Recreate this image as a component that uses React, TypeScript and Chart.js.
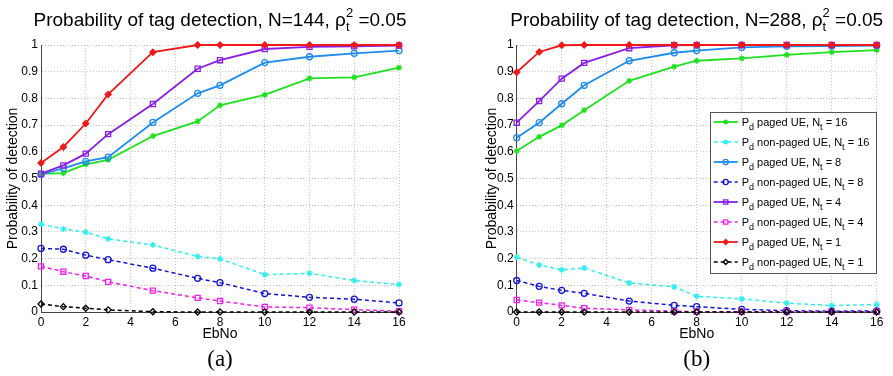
import React, { useEffect, useRef } from "react";
import { Chart, registerables } from "chart.js";
import { drawPoint } from "chart.js/helpers";

Chart.register(...registerables);

// ---------------- data ----------------
const ebno = [0, 1, 2, 3, 5, 7, 8, 10, 12, 14, 16];

const seriesLabels = [
  "P_d paged UE, N_t = 16",
  "P_d non-paged UE, N_t = 16",
  "P_d paged UE, N_t = 8",
  "P_d non-paged UE, N_t = 8",
  "P_d paged UE, N_t = 4",
  "P_d non-paged UE, N_t = 4",
  "P_d paged UE, N_t = 1",
  "P_d non-paged UE, N_t = 1",
];

// (a) N = 144
const a_paged16 = [0.517, 0.520, 0.553, 0.570, 0.659, 0.714, 0.774, 0.813, 0.875, 0.879, 0.915];
const a_nonpaged16 = [0.329, 0.311, 0.299, 0.274, 0.251, 0.208, 0.199, 0.140, 0.145, 0.118, 0.103];
const a_paged8 = [0.515, 0.538, 0.564, 0.580, 0.710, 0.819, 0.849, 0.934, 0.956, 0.969, 0.979];
const a_nonpaged8 = [0.238, 0.235, 0.213, 0.196, 0.164, 0.126, 0.110, 0.069, 0.055, 0.048, 0.034];
const a_paged4 = [0.518, 0.549, 0.593, 0.666, 0.779, 0.911, 0.943, 0.985, 0.993, 0.995, 0.998];
const a_nonpaged4 = [0.171, 0.151, 0.135, 0.113, 0.080, 0.053, 0.041, 0.019, 0.016, 0.009, 0.003];
const a_paged1 = [0.558, 0.618, 0.706, 0.815, 0.973, 1.0, 1.0, 1.0, 1.0, 1.0, 1.0];
const a_nonpaged1 = [0.030, 0.020, 0.014, 0.008, 0.001, 0, 0, 0, 0, 0, 0];

// (b) N = 288
const b_paged16 = [0.603, 0.656, 0.699, 0.756, 0.866, 0.919, 0.941, 0.950, 0.963, 0.973, 0.981];
const b_nonpaged16 = [0.205, 0.176, 0.158, 0.165, 0.109, 0.094, 0.059, 0.049, 0.033, 0.024, 0.028];
const b_paged8 = [0.653, 0.709, 0.780, 0.849, 0.941, 0.971, 0.979, 0.991, 0.995, 0.996, 0.998];
const b_nonpaged8 = [0.118, 0.096, 0.081, 0.070, 0.041, 0.025, 0.020, 0.010, 0.005, 0.003, 0.004];
const b_paged4 = [0.709, 0.790, 0.874, 0.933, 0.988, 0.999, 1.0, 1.0, 1.0, 1.0, 1.0];
const b_nonpaged4 = [0.045, 0.035, 0.025, 0.014, 0.008, 0.003, 0.001, 0.001, 0.001, 0.001, 0.001];
const b_paged1 = [0.898, 0.974, 0.999, 1.0, 1.0, 1.0, 1.0, 1.0, 1.0, 1.0, 1.0];
const b_nonpaged1 = [0, 0, 0, 0, 0, 0, 0, 0, 0, 0, 0];

const titlePrefixes = ["Probability of tag detection, N=144, ", "Probability of tag detection, N=288, "];
const titleSymbol = "\u03C1";
const titleSub = "t";
const titleSup = "2";
const titleSuffix = " =0.05";
const captions = ["(a)", "(b)"];
const xAxisTitle = "EbNo";
const yAxisTitle = "Probability of detection";

// ---------------- styles ----------------
const FONT = "'Liberation Sans', Arial, Helvetica, sans-serif";
const seriesStyles = [
  { color: "#1fe01f", dashed: false, point: "star", fill: false },
  { color: "#33eeee", dashed: true, point: "star", fill: false },
  { color: "#1e8cf0", dashed: false, point: "circle", fill: false },
  { color: "#1414d8", dashed: true, point: "circle", fill: false },
  { color: "#8a1ee6", dashed: false, point: "rect", fill: false },
  { color: "#f020f0", dashed: true, point: "rect", fill: false },
  { color: "#f01818", dashed: false, point: "rectRot", fill: true },
  { color: "#000000", dashed: true, point: "rectRot", fill: false },
];

function pointRadius(style: string) {
  if (style === "rect") return 3.6;
  return 3;
}

function buildDatasets(series: number[][]) {
  return series.map((vals, i) => {
    const s = seriesStyles[i];
    return {
      label: seriesLabels[i],
      data: vals.map((v, k) => ({ x: ebno[k], y: v })),
      borderColor: s.color,
      backgroundColor: s.fill ? s.color : "rgba(255,255,255,0)",
      borderWidth: s.dashed ? 1.5 : 1.8,
      borderDash: s.dashed ? [4, 3] : [],
      pointStyle: s.point,
      pointRadius: pointRadius(s.point),
      pointBorderWidth: 1.3,
      pointBackgroundColor: s.fill ? s.color : "rgba(255,255,255,0)",
      pointBorderColor: s.color,
      tension: 0,
      clip: false as any,
      order: 10 - i,
    };
  });
}

// draw text with "_x" subscripts
function drawRich(ctx: CanvasRenderingContext2D, text: string, x: number, y: number, size: number) {
  const parts = text.split(/_(\w)/);
  let cx = x;
  parts.forEach((p, idx) => {
    const isSub = idx % 2 === 1;
    ctx.font = `${isSub ? Math.round(size * 0.78) : size}px ${FONT}`;
    ctx.fillText(p, cx, isSub ? y + 4 : y);
    cx += ctx.measureText(p).width;
  });
}

function makeDecor(panel: number, withLegend: boolean) {
  return {
    id: "decor" + panel,
    afterDraw(chart: any) {
      const ctx: CanvasRenderingContext2D = chart.ctx;
      const ca = chart.chartArea;
      const cx = (ca.left + ca.right) / 2;
      ctx.save();
      ctx.fillStyle = "#000";
      ctx.textBaseline = "alphabetic";
      ctx.textAlign = "left";
      // title
      const big = `19px ${FONT}`;
      const small = `13px ${FONT}`;
      ctx.font = big;
      const w1 = ctx.measureText(titlePrefixes[panel] + titleSymbol).width;
      const w3 = ctx.measureText(titleSuffix).width;
      ctx.font = small;
      const w2 = Math.max(ctx.measureText(titleSub).width, ctx.measureText(titleSup).width);
      const total = w1 + w2 + w3;
      let x = cx - total / 2;
      const by = 26;
      ctx.font = big;
      ctx.fillText(titlePrefixes[panel] + titleSymbol, x, by);
      x += w1;
      ctx.font = small;
      ctx.fillText(titleSub, x, by + 5);
      ctx.fillText(titleSup, x, by - 9);
      x += w2;
      ctx.font = big;
      ctx.fillText(titleSuffix, x, by);
      // caption
      ctx.font = `23px 'Liberation Serif', 'DejaVu Serif', serif`;
      ctx.textAlign = "center";
      ctx.fillText(captions[panel], cx, 366);
      ctx.textAlign = "left";

      if (withLegend) {
        const w = 167;
        const h = 161;
        const right = ca.right;
        const left = right - w;
        const top = 112;
        ctx.fillStyle = "#fff";
        ctx.fillRect(left, top, w, h);
        ctx.strokeStyle = "#555";
        ctx.lineWidth = 1;
        ctx.strokeRect(Math.round(left) + 0.5, top + 0.5, w - 1, h);
        chart.data.datasets.forEach((ds: any, i: number) => {
          const y = top + 10 + 20 * i;
          ctx.strokeStyle = ds.borderColor;
          ctx.lineWidth = ds.borderWidth;
          ctx.setLineDash(ds.borderDash || []);
          ctx.beginPath();
          ctx.moveTo(left + 4, y);
          ctx.lineTo(left + 28, y);
          ctx.stroke();
          ctx.setLineDash([]);
          ctx.fillStyle = ds.pointBackgroundColor;
          ctx.strokeStyle = ds.pointBorderColor;
          ctx.lineWidth = ds.pointBorderWidth;
          drawPoint(ctx, { pointStyle: ds.pointStyle, rotation: 0, radius: ds.pointRadius * 0.85, borderWidth: ds.pointBorderWidth } as any, left + 16, y);
          ctx.fillStyle = "#000";
          drawRich(ctx, ds.label, left + 32, y + 4, 11);
        });
      }
      ctx.restore();
    },
  };
}

function makeConfig(panel: number, series: number[][]) {
  const isLeft = panel === 0;
  const padLeft = isLeft ? 0 : 25;
  const yWidth = isLeft ? 41 : 45.7;
  const padRight = isLeft ? 47 : 16.3;
  return {
    type: "line",
    data: { datasets: buildDatasets(series) },
    options: {
      responsive: false,
      animation: false,
      devicePixelRatio: 1,
      layout: { padding: { left: padLeft, right: padRight, top: 45, bottom: 0 } },
      plugins: {
        legend: { display: false },
        tooltip: { enabled: false },
        title: { display: false },
      },
      scales: {
        x: {
          type: "linear",
          min: 0,
          max: 16,
          afterBuildTicks: (scale: any) => {
            scale.ticks = [0, 2, 4, 6, 8, 10, 12, 14, 16].map((v) => ({ value: v }));
          },
          afterFit: (scale: any) => {
            scale.height = 64;
          },
          ticks: {
            color: "#000",
            font: { family: FONT, size: 12 },
            padding: 3,
            maxRotation: 0,
            autoSkip: false,
          },
          grid: { color: "#c4c4c4", lineWidth: 1, drawTicks: false },
          border: { display: true, color: "#444", width: 1, dash: [1, 2] },
          title: {
            display: true,
            text: xAxisTitle,
            color: "#000",
            font: { family: FONT, size: 14 },
            padding: { top: 0, bottom: 33 },
          },
        },
        y: {
          type: "linear",
          min: 0,
          max: 1,
          afterBuildTicks: (scale: any) => {
            scale.ticks = [0, 0.1, 0.2, 0.3, 0.4, 0.5, 0.6, 0.7, 0.8, 0.9, 1].map((v) => ({ value: v }));
          },
          afterFit: (scale: any) => {
            scale.width = yWidth;
          },
          ticks: {
            color: "#000",
            font: { family: FONT, size: 12 },
            padding: 3,
            callback: (v: number) => String(Math.round(v * 10) / 10),
          },
          grid: { color: "#c4c4c4", lineWidth: 1, drawTicks: false },
          border: { display: true, color: "#444", width: 1, dash: [1, 2] },
          title: {
            display: true,
            text: yAxisTitle,
            color: "#000",
            font: { family: FONT, size: 14 },
            padding: { top: isLeft ? 4.5 : 12.5, bottom: 0 },
          },
        },
      },
    },
    plugins: [makeDecor(panel, !isLeft)],
  };
}

const seriesA = [a_paged16, a_nonpaged16, a_paged8, a_nonpaged8, a_paged4, a_nonpaged4, a_paged1, a_nonpaged1];
const seriesB = [b_paged16, b_nonpaged16, b_paged8, b_nonpaged8, b_paged4, b_nonpaged4, b_paged1, b_nonpaged1];

export default function App() {
  const leftRef = useRef<HTMLCanvasElement>(null);
  const rightRef = useRef<HTMLCanvasElement>(null);

  useEffect(() => {
    const c1 = new Chart(leftRef.current as HTMLCanvasElement, makeConfig(0, seriesA) as any);
    const c2 = new Chart(rightRef.current as HTMLCanvasElement, makeConfig(1, seriesB) as any);
    return () => {
      c1.destroy();
      c2.destroy();
    };
  }, []);

  return (
    <div style={{ position: "absolute", left: 0, top: 0, width: 893, height: 376, background: "#fff" }}>
      <canvas ref={leftRef} width={446} height={376} style={{ position: "absolute", left: 0, top: 0, width: 446, height: 376 }} />
      <canvas ref={rightRef} width={447} height={376} style={{ position: "absolute", left: 446, top: 0, width: 447, height: 376 }} />
    </div>
  );
}
